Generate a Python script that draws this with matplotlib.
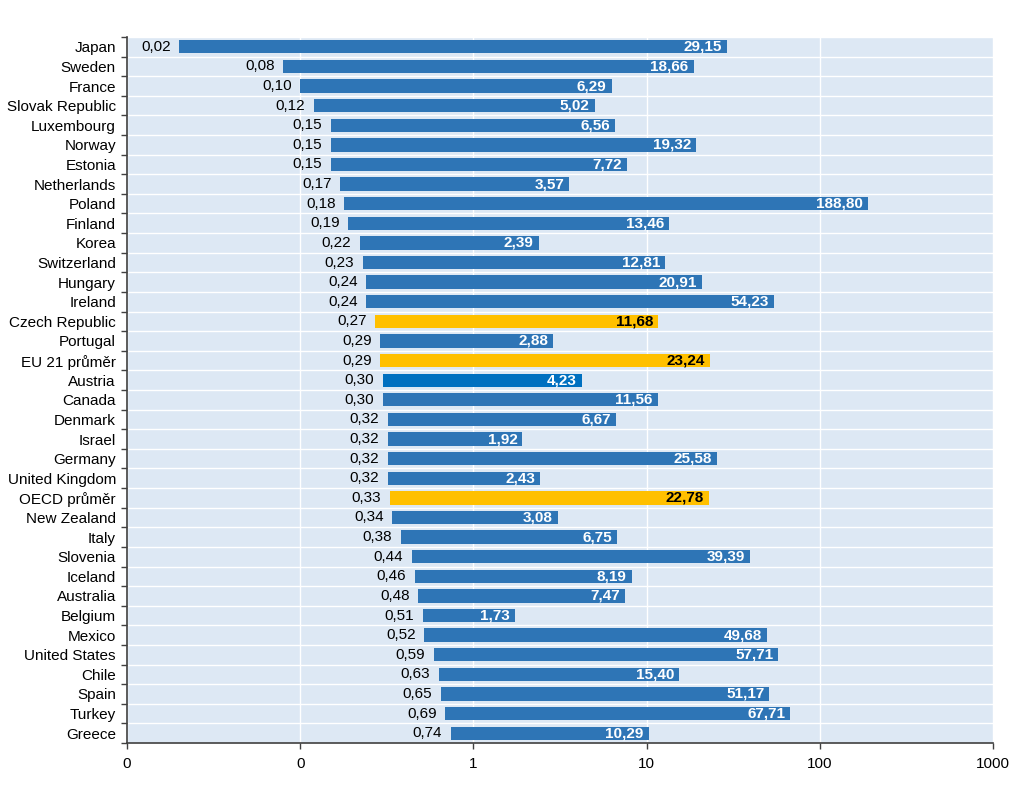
import matplotlib
matplotlib.use("Agg")
import matplotlib.pyplot as plt
import numpy as np

countries = ["Japan", "Sweden", "France", "Slovak Republic", "Luxembourg", "Norway", "Estonia",
             "Netherlands", "Poland", "Finland", "Korea", "Switzerland", "Hungary", "Ireland",
             "Czech Republic", "Portugal", "EU 21 průměr", "Austria", "Canada", "Denmark", "Israel",
             "Germany", "United Kingdom", "OECD průměr", "New Zealand", "Italy", "Slovenia",
             "Iceland", "Australia", "Belgium", "Mexico", "United States", "Chile", "Spain",
             "Turkey", "Greece"]
low = [0.02, 0.08, 0.10, 0.12, 0.15, 0.15, 0.15, 0.17, 0.18, 0.19, 0.22, 0.23, 0.24, 0.24,
       0.27, 0.29, 0.29, 0.30, 0.30, 0.32, 0.32, 0.32, 0.32, 0.33, 0.34, 0.38, 0.44, 0.46,
       0.48, 0.51, 0.52, 0.59, 0.63, 0.65, 0.69, 0.74]
high = [29.15, 18.66, 6.29, 5.02, 6.56, 19.32, 7.72, 3.57, 188.80, 13.46, 2.39, 12.81, 20.91,
        54.23, 11.68, 2.88, 23.24, 4.23, 11.56, 6.67, 1.92, 25.58, 2.43, 22.78, 3.08, 6.75,
        39.39, 8.19, 7.47, 1.73, 49.68, 57.71, 15.40, 51.17, 67.71, 10.29]
xticks = [0.01, 0.1, 1, 10, 100, 1000]
xticklabels = ["0", "0", "1", "10", "100", "1000"]

highlight = {"Czech Republic", "EU 21 průměr", "OECD průměr"}
special = {"Austria"}

plt.rcParams['font.family'] = ['Liberation Sans', 'DejaVu Sans']
FS = 11

fig = plt.figure(figsize=(10.23, 7.87), dpi=100)
ax = fig.add_axes([127/1023, 1-743/787, (993-127)/1023, (743-37)/787])
ax.set_facecolor("#dde8f4")

n = len(countries)
y = np.arange(n)
ax.set_xscale("log")
ax.set_xlim(0.01, 1000)
ax.set_ylim(n - 0.5, -0.5)

def fmt(v):
    return f"{v:.2f}".replace(".", ",")

for i, (c, lo, hi) in enumerate(zip(countries, low, high)):
    if c in highlight:
        col, tcol = "#ffc000", "black"
    elif c in special:
        col, tcol = "#0070c0", "white"
    else:
        col, tcol = "#2e75b6", "white"
    ax.barh(i, hi - lo, left=lo, height=0.68, color=col, zorder=3)
    ax.text(lo / 1.12, i, fmt(lo), ha="right", va="center", fontsize=FS, color="black", zorder=4)
    ax.text(hi / 1.07, i, fmt(hi), ha="right", va="center", fontsize=FS, color=tcol,
            fontweight="bold", zorder=4)

for b in np.arange(-0.5, n + 0.5, 1):
    ax.axhline(b, color="white", lw=1.0, zorder=1)
for t in xticks:
    ax.axvline(t, color="white", lw=1.0, zorder=1)

ax.set_xticks(xticks)
ax.set_xticklabels(xticklabels, fontsize=FS)
ax.xaxis.set_minor_locator(matplotlib.ticker.NullLocator())
ax.set_yticks(y)
ax.set_yticklabels(countries, fontsize=FS)
ax.tick_params(axis="y", length=0, pad=8)
ax.set_yticks(np.arange(-0.5, n + 0.5, 1), minor=True)
ax.tick_params(axis="y", which="minor", length=4, color="#404040", width=1)
ax.tick_params(axis="x", length=4, color="#404040", width=1, pad=6)

for s in ["top", "right"]:
    ax.spines[s].set_visible(False)
for s in ["left", "bottom"]:
    ax.spines[s].set_color("#404040")
    ax.spines[s].set_linewidth(1.2)

fig.savefig("out.png", dpi=100)
